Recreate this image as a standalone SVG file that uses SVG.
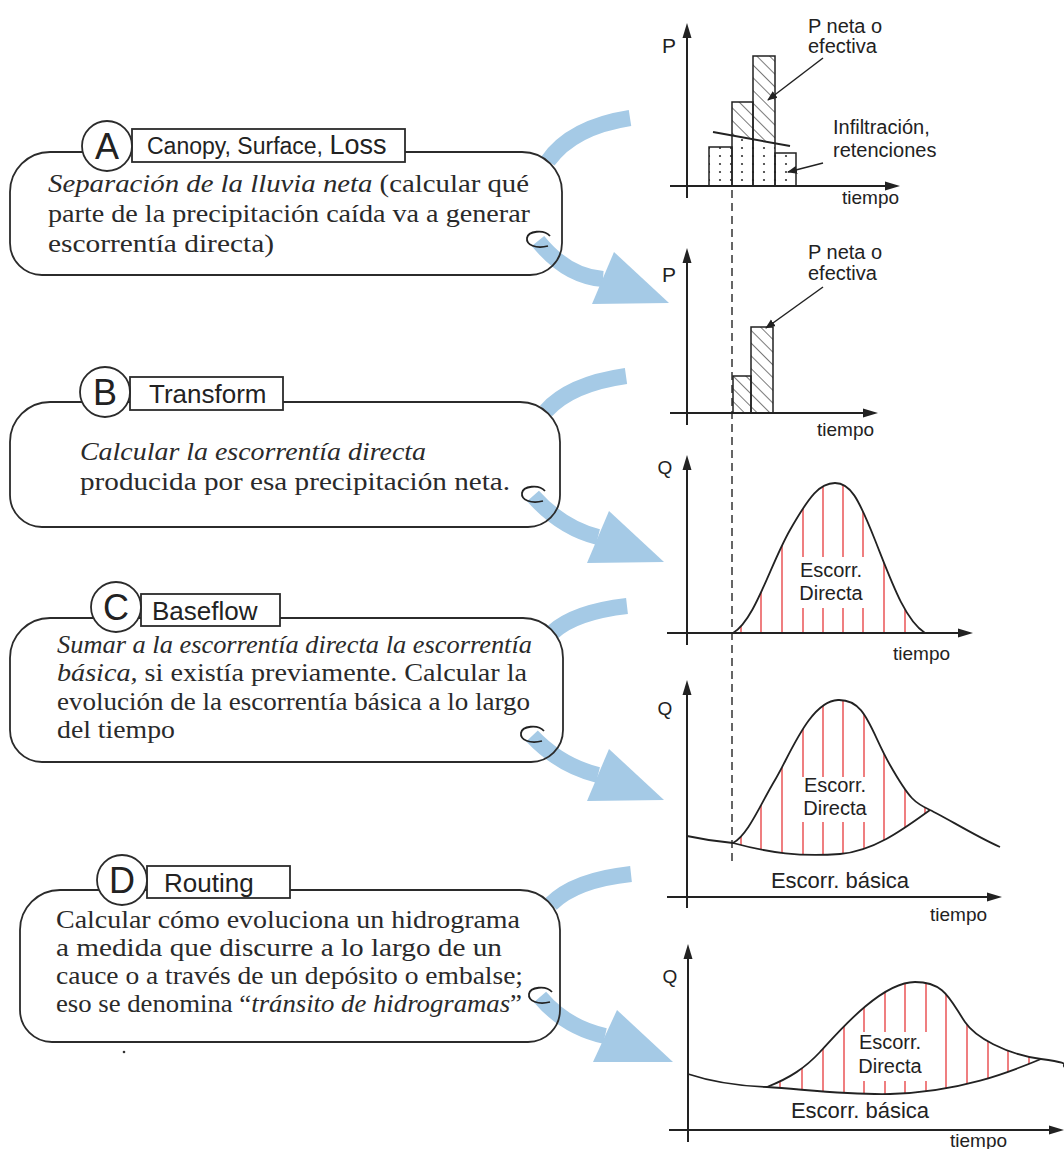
<svg xmlns="http://www.w3.org/2000/svg" width="1064" height="1149" viewBox="0 0 1064 1149">
<defs>
<style>
.box{fill:none;stroke:#2b2b2b;stroke-width:1.8}
.tab{fill:#fff;stroke:#2b2b2b;stroke-width:1.8}
.let{font-family:"Liberation Sans",Arial,sans-serif;font-size:36px;fill:#222;text-anchor:middle}
.lab{font-family:"Liberation Sans",Arial,sans-serif;font-size:23px;fill:#222}
.body{font-family:"Liberation Serif","Times New Roman",serif;font-size:25px;fill:#2a2a2a}
.it{font-style:italic}
.band{fill:none;stroke:#a5cae6;stroke-width:16}
.head{fill:#a5cae6}
.curl{fill:none;stroke:#222;stroke-width:1.8}
.axis{stroke:#222;stroke-width:2;fill:none}
.ah{fill:#222}
.ct{font-family:"Liberation Sans",Arial,sans-serif;font-size:19px;fill:#222}
.big{font-size:20px}
.note{font-size:20px}
.pl{font-size:21px}
.bas{font-size:22px}
.mid{text-anchor:middle}
.bar{stroke:#222;stroke-width:1.5;fill:none}
.red{stroke:#e8484a;stroke-width:1.4}
.crv{fill:none;stroke:#222;stroke-width:1.8}
.lead{stroke:#222;stroke-width:1.5;marker-end:url(#arr)}
</style>
<pattern id="dots" patternUnits="userSpaceOnUse" width="11" height="8" x="2" y="0">
<circle cx="3" cy="4" r="1.1" fill="#333"/>
</pattern>
<pattern id="hatch" patternUnits="userSpaceOnUse" width="9" height="9" patternTransform="rotate(-45)">
<line x1="0" y1="0" x2="0" y2="9" stroke="#333" stroke-width="1.3"/>
</pattern>
<marker id="arr" viewBox="0 0 10 10" refX="9" refY="5" markerWidth="10" markerHeight="10" markerUnits="userSpaceOnUse" orient="auto">
<path d="M0,1 L10,5 L0,9 Z" fill="#222"/>
</marker>
<clipPath id="clip3"><path d="M733,633 C755,620 770,565 790,530 S820,483 835,483 S858,497 875,540 S905,620 925,633 Z"/></clipPath>
<clipPath id="clip4"><path d="M733,843 C748,835 760,805 775,780 S810,701 838,700 S870,730 890,765 S915,803 930,810 C905,828 875,851 840,854 C800,857 770,853 733,843 Z"/></clipPath>
<clipPath id="clip5"><path d="M767,1087 C790,1078 805,1068 820,1052 S880,982 915,982 C945,982 950,1000 965,1022 C975,1037 1005,1054 1041,1059 C1010,1072 960,1092 890,1094 C850,1095 810,1090 767,1087 Z"/></clipPath>
</defs>
<rect width="1064" height="1149" fill="#fff"/>

<!-- connectors -->
<g id="connectors">
<path class="band" d="M548,161 Q572,127 630,118"/>
<path class="band" d="M538,241 C555,262 575,277 603,279"/>
<polygon class="head" points="614,252 669,303 592,304"/>
<path class="curl" d="M550,236 C544,229 528,231 527,238 C526,245 536,249 548,246"/>

<path class="band" d="M546,411 Q570,384 626,376"/>
<path class="band" d="M533,496 C550,515 570,530 598,537"/>
<polygon class="head" points="609,511 664,562 587,563"/>
<path class="curl" d="M545,491 C539,484 523,486 522,493 C521,500 531,504 543,501"/>

<path class="band" d="M553,632 Q575,612 627,606"/>
<path class="band" d="M532,736 C550,755 570,768 598,775"/>
<polygon class="head" points="609,749 664,800 587,801"/>
<path class="curl" d="M544,731 C538,724 522,726 521,733 C520,740 530,744 542,741"/>

<path class="band" d="M551,904 Q575,880 631,874"/>
<path class="band" d="M540,997 C556,1016 578,1030 605,1036"/>
<polygon class="head" points="617,1010 673,1062 593,1062"/>
<path class="curl" d="M552,992 C546,985 530,987 529,994 C528,1001 538,1005 550,1002"/>
</g>

<!-- node A -->
<g id="node-A">
<path class="box" d="M50,152 H522 A40,40 0 0 1 562,192 V243 A32,32 0 0 1 530,275 H42 A32,32 0 0 1 10,243 V192 A40,40 0 0 1 50,152 Z"/>
<rect class="tab" x="132" y="129" width="273" height="33"/>
<circle class="tab" cx="107" cy="146" r="25"/>
<text class="let" x="107" y="159">A</text>
<text class="lab" x="147" y="154">Canopy, Surface, <tspan style="font-size:27px">Loss</tspan></text>
<text class="body" x="48" y="192" textLength="481" lengthAdjust="spacingAndGlyphs"><tspan class="it">Separación de la lluvia neta</tspan> (calcular qué</text>
<text class="body" x="48" y="222" textLength="482" lengthAdjust="spacingAndGlyphs">parte de la precipitación caída va a generar</text>
<text class="body" x="48" y="252" textLength="226" lengthAdjust="spacingAndGlyphs">escorrentía directa)</text>
</g>

<!-- node B -->
<g id="node-B">
<path class="box" d="M50,402 H520 A40,40 0 0 1 560,442 V495 A32,32 0 0 1 528,527 H42 A32,32 0 0 1 10,495 V442 A40,40 0 0 1 50,402 Z"/>
<rect class="tab" x="130" y="377" width="153" height="33"/>
<circle class="tab" cx="105" cy="392" r="25"/>
<text class="let" x="105" y="405">B</text>
<text class="lab" x="149" y="403" style="font-size:26px">Transform</text>
<text class="body it" x="80" y="460" textLength="346" lengthAdjust="spacingAndGlyphs">Calcular la escorrentía directa</text>
<text class="body" x="80" y="490" textLength="430" lengthAdjust="spacingAndGlyphs">producida por esa precipitación neta.</text>
</g>

<!-- node C -->
<g id="node-C">
<path class="box" d="M50,618 H523 A40,40 0 0 1 563,658 V730 A32,32 0 0 1 531,762 H42 A32,32 0 0 1 10,730 V658 A40,40 0 0 1 50,618 Z"/>
<rect class="tab" x="141" y="594" width="139" height="32"/>
<circle class="tab" cx="116" cy="607" r="25"/>
<text class="let" x="116" y="620">C</text>
<text class="lab" x="152" y="620" style="font-size:26px">Baseflow</text>
<text class="body it" x="57" y="653" textLength="475" lengthAdjust="spacingAndGlyphs">Sumar a la escorrentía directa la escorrentía</text>
<text class="body" x="57" y="681" textLength="470" lengthAdjust="spacingAndGlyphs"><tspan class="it">básica,</tspan> si existía previamente. Calcular la</text>
<text class="body" x="57" y="710" textLength="473" lengthAdjust="spacingAndGlyphs">evolución de la escorrentía básica a lo largo</text>
<text class="body" x="57" y="738" textLength="118" lengthAdjust="spacingAndGlyphs">del tiempo</text>
</g>

<!-- node D -->
<g id="node-D">
<path class="box" d="M60,890 H520 A40,40 0 0 1 560,930 V1010 A32,32 0 0 1 528,1042 H52 A32,32 0 0 1 20,1010 V930 A40,40 0 0 1 60,890 Z"/>
<rect class="tab" x="147" y="866" width="143" height="32"/>
<circle class="tab" cx="122" cy="880" r="25"/>
<text class="let" x="122" y="893">D</text>
<text class="lab" x="164" y="892" style="font-size:26px">Routing</text>
<text class="body" x="56" y="928" textLength="464" lengthAdjust="spacingAndGlyphs">Calcular cómo evoluciona un hidrograma</text>
<text class="body" x="56" y="956" textLength="446" lengthAdjust="spacingAndGlyphs">a medida que discurre a lo largo de un</text>
<text class="body" x="56" y="984" textLength="467" lengthAdjust="spacingAndGlyphs">cauce o a través de un depósito o embalse;</text>
<text class="body" x="56" y="1012" textLength="466" lengthAdjust="spacingAndGlyphs">eso se denomina “<tspan class="it">tránsito de hidrogramas</tspan>”</text>
<circle cx="124" cy="1052" r="1.3" fill="#333"/>
</g>

<!-- dashed reference line -->
<line x1="732" y1="190" x2="732" y2="862" stroke="#333" stroke-width="1.5" stroke-dasharray="8 5"/>

<!-- chart 1 -->
<g id="chart-1">
<polygon points="709,147 732,147 732,186 709,186" fill="url(#dots)"/>
<polygon points="732,135.5 753,139.3 753,186 732,186" fill="url(#dots)"/>
<polygon points="753,139.3 775,143.3 775,186 753,186" fill="url(#dots)"/>
<polygon points="775,153 796,153 796,186 775,186" fill="url(#dots)"/>
<polygon points="732,102 753,102 753,139.3 732,135.5" fill="url(#hatch)"/>
<polygon points="753,56 775,56 775,143.3 753,139.3" fill="url(#hatch)"/>
<rect class="bar" x="709" y="147" width="23" height="39"/>
<rect class="bar" x="732" y="102" width="21" height="84"/>
<rect class="bar" x="753" y="56" width="22" height="130"/>
<rect class="bar" x="775" y="153" width="21" height="33"/>
<line x1="713" y1="132" x2="790" y2="146" stroke="#222" stroke-width="2"/>
<line class="axis" x1="687" y1="198" x2="687" y2="36"/>
<polygon class="ah" points="687,23 682.5,38 691.5,38"/>
<line class="axis" x1="670" y1="186" x2="887" y2="186"/>
<polygon class="ah" points="900,186 885,181.5 885,190.5"/>
<text class="ct mid pl" x="669" y="53">P</text>
<text class="ct note" x="808" y="33">P neta o</text>
<text class="ct note" x="808" y="53">efectiva</text>
<line class="lead" x1="823" y1="58" x2="768" y2="100"/>
<text class="ct note" x="833" y="134">Infiltración,</text>
<text class="ct note" x="833" y="157">retenciones</text>
<line class="lead" x1="823" y1="163" x2="788" y2="172"/>
<text class="ct" x="842" y="204">tiempo</text>
</g>

<!-- chart 2 -->
<g id="chart-2">
<rect x="733" y="376" width="18" height="37" fill="url(#hatch)"/>
<rect x="751" y="327" width="22" height="86" fill="url(#hatch)"/>
<rect class="bar" x="733" y="376" width="18" height="37"/>
<rect class="bar" x="751" y="327" width="22" height="86"/>
<line class="axis" x1="687" y1="425" x2="687" y2="261"/>
<polygon class="ah" points="687,248 682.5,263 691.5,263"/>
<line class="axis" x1="670" y1="413" x2="865" y2="413"/>
<polygon class="ah" points="878,413 863,408.5 863,417.5"/>
<text class="ct mid pl" x="669" y="282">P</text>
<text class="ct note" x="808" y="259">P neta o</text>
<text class="ct note" x="808" y="280">efectiva</text>
<line class="lead" x1="823" y1="287" x2="766" y2="328"/>
<text class="ct" x="817" y="436">tiempo</text>
</g>

<!-- chart 3 -->
<g id="chart-3">
<g clip-path="url(#clip3)">
<line class="red" x1="741" y1="470" x2="741" y2="633"/>
<line class="red" x1="761" y1="470" x2="761" y2="633"/>
<line class="red" x1="782" y1="470" x2="782" y2="633"/>
<line class="red" x1="803" y1="470" x2="803" y2="557"/><line class="red" x1="803" y1="608" x2="803" y2="633"/>
<line class="red" x1="823" y1="470" x2="823" y2="557"/><line class="red" x1="823" y1="608" x2="823" y2="633"/>
<line class="red" x1="843" y1="470" x2="843" y2="557"/><line class="red" x1="843" y1="608" x2="843" y2="633"/>
<line class="red" x1="863" y1="470" x2="863" y2="557"/><line class="red" x1="863" y1="608" x2="863" y2="633"/>
<line class="red" x1="884" y1="470" x2="884" y2="633"/>
<line class="red" x1="905" y1="470" x2="905" y2="633"/>
</g>
<path class="crv" d="M733,633 C755,620 770,565 790,530 S820,483 835,483 S858,497 875,540 S905,620 925,633"/>
<line class="axis" x1="687" y1="645" x2="687" y2="468"/>
<polygon class="ah" points="687,455 682.5,470 691.5,470"/>
<line class="axis" x1="667" y1="633" x2="960" y2="633"/>
<polygon class="ah" points="973,633 958,628.5 958,637.5"/>
<text class="ct mid" x="665" y="474">Q</text>
<text class="ct mid big" x="831" y="577">Escorr.</text>
<text class="ct mid big" x="831" y="600">Directa</text>
<text class="ct" x="893" y="660">tiempo</text>
</g>

<!-- chart 4 -->
<g id="chart-4">
<g clip-path="url(#clip4)">
<line class="red" x1="741" y1="690" x2="741" y2="860"/>
<line class="red" x1="761" y1="690" x2="761" y2="860"/>
<line class="red" x1="782" y1="690" x2="782" y2="860"/>
<line class="red" x1="803" y1="690" x2="803" y2="777"/><line class="red" x1="803" y1="822" x2="803" y2="860"/>
<line class="red" x1="823" y1="690" x2="823" y2="777"/><line class="red" x1="823" y1="822" x2="823" y2="860"/>
<line class="red" x1="843" y1="690" x2="843" y2="777"/><line class="red" x1="843" y1="822" x2="843" y2="860"/>
<line class="red" x1="864" y1="690" x2="864" y2="777"/><line class="red" x1="864" y1="822" x2="864" y2="860"/>
<line class="red" x1="884" y1="690" x2="884" y2="860"/>
<line class="red" x1="905" y1="690" x2="905" y2="860"/>
<line class="red" x1="925" y1="690" x2="925" y2="860"/>
</g>
<path class="crv" d="M733,843 C748,835 760,805 775,780 S810,701 838,700 S870,730 890,765 S915,803 930,810 C945,817 975,836 1000,847"/>
<path class="crv" d="M687,836 Q710,841 733,843 C770,853 800,857 840,854 C875,851 905,828 930,810"/>
<line class="axis" x1="687" y1="908" x2="687" y2="693"/>
<polygon class="ah" points="687,680 682.5,695 691.5,695"/>
<line class="axis" x1="667" y1="897" x2="989" y2="897"/>
<polygon class="ah" points="1002,897 987,892.5 987,901.5"/>
<text class="ct mid" x="665" y="715">Q</text>
<text class="ct mid big" x="835" y="792">Escorr.</text>
<text class="ct mid big" x="835" y="815">Directa</text>
<text class="ct mid bas" x="840" y="888">Escorr. básica</text>
<text class="ct" x="930" y="921">tiempo</text>
</g>

<!-- chart 5 -->
<g id="chart-5">
<g clip-path="url(#clip5)">
<line class="red" x1="780" y1="970" x2="780" y2="1100"/>
<line class="red" x1="802" y1="970" x2="802" y2="1100"/>
<line class="red" x1="823" y1="970" x2="823" y2="1100"/>
<line class="red" x1="844" y1="970" x2="844" y2="1100"/>
<line class="red" x1="864" y1="970" x2="864" y2="1032"/><line class="red" x1="864" y1="1081" x2="864" y2="1100"/>
<line class="red" x1="885" y1="970" x2="885" y2="1032"/><line class="red" x1="885" y1="1081" x2="885" y2="1100"/>
<line class="red" x1="905" y1="970" x2="905" y2="1032"/><line class="red" x1="905" y1="1081" x2="905" y2="1100"/>
<line class="red" x1="926" y1="970" x2="926" y2="1032"/><line class="red" x1="926" y1="1081" x2="926" y2="1100"/>
<line class="red" x1="946" y1="970" x2="946" y2="1100"/>
<line class="red" x1="967" y1="970" x2="967" y2="1100"/>
<line class="red" x1="988" y1="970" x2="988" y2="1100"/>
<line class="red" x1="1008" y1="970" x2="1008" y2="1100"/>
<line class="red" x1="1029" y1="970" x2="1029" y2="1100"/>
</g>
<path class="crv" d="M767,1087 C790,1078 805,1068 820,1052 S880,982 915,982 C945,982 950,1000 965,1022 C975,1037 1005,1054 1041,1059 S1058,1064 1066,1068"/>
<path class="crv" d="M688,1074 C715,1083 740,1086 767,1087 C810,1090 850,1095 890,1094 C960,1092 1010,1072 1041,1059"/>
<line class="axis" x1="688" y1="1142" x2="688" y2="957"/>
<polygon class="ah" points="688,944 683.5,959 692.5,959"/>
<line class="axis" x1="669" y1="1130" x2="1050" y2="1130"/>
<polygon class="ah" points="1064,1130 1049,1125.5 1049,1134.5"/>
<text class="ct mid" x="670" y="983">Q</text>
<text class="ct mid big" x="890" y="1049">Escorr.</text>
<text class="ct mid big" x="890" y="1073">Directa</text>
<text class="ct mid bas" x="860" y="1118">Escorr. básica</text>
<text class="ct" x="950" y="1147">tiempo</text>
</g>
</svg>
